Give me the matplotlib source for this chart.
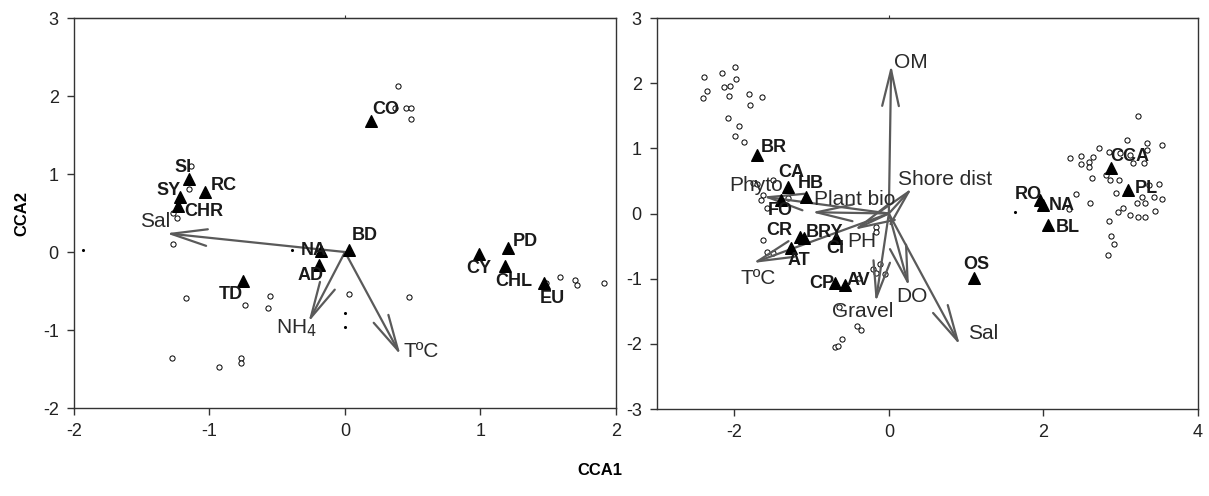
import matplotlib
matplotlib.use("Agg")
import matplotlib.pyplot as plt

plt.rcParams['font.family'] = ['Liberation Sans', 'DejaVu Sans']
plt.rcParams['axes.unicode_minus'] = False

# ---- left panel data ----
l_sp = ["CO", "SI", "SY", "RC", "CHR", "BD", "NA", "AD", "TD", "CY", "PD", "CHL", "EU"]
l_sp_x = [0.19, -1.15, -1.22, -1.03, -1.23, 0.03, -0.18, -0.19, -0.75, 0.99, 1.20, 1.18, 1.47]
l_sp_y = [1.68, 0.94, 0.71, 0.77, 0.59, 0.03, 0.01, -0.17, -0.37, -0.02, 0.05, -0.18, -0.40]

l_site_x = [0.39, 0.37, 0.45, 0.49, 0.49, -1.14, -1.15, -1.27, -1.24, -1.27,
            1.48, 1.59, 1.70, 1.71, 1.91, -1.17, -0.74, -0.55, -0.57, 0.03, 0.47,
            -1.28, -0.93, -0.77, -0.77]
l_site_y = [2.13, 1.85, 1.85, 1.85, 1.71, 1.10, 0.81, 0.50, 0.44, 0.10,
            -0.40, -0.32, -0.36, -0.42, -0.40, -0.59, -0.68, -0.57, -0.72, -0.54, -0.58,
            -1.36, -1.47, -1.36, -1.42]
l_dot_x = [0.0, 0.0, -0.39, -1.93]
l_dot_y = [-0.78, -0.96, 0.02, 0.02]

l_env = ["Sal", "NH$_4$", "TºC"]
l_env_x = [-1.32, -0.27, 0.41]
l_env_y = [0.24, -0.90, -1.32]

# ---- right panel data ----
r_sp = ["BR", "CA", "HB", "FO", "CR", "BRY", "CI", "AT", "CP", "AV", "OS", "RO", "NA", "BL", "CCA", "PL"]
r_sp_x = [-1.71, -1.30, -1.07, -1.40, -1.15, -1.10, -0.69, -1.26, -0.70, -0.57, 1.10, 1.95, 1.99, 2.06, 2.88, 3.10]
r_sp_y = [0.90, 0.41, 0.26, 0.20, -0.36, -0.38, -0.38, -0.53, -1.07, -1.10, -0.99, 0.21, 0.13, -0.18, 0.70, 0.36]

r_site_x = [-2.39, -2.16, -1.99, -1.98, -2.13, -2.06, -2.35, -2.41, -2.07, -1.81, -1.64, -1.80,
            -2.08, -1.94, -1.99, -1.87, -1.76, -1.71, -1.63, -1.65, -1.58, -1.50, -1.31,
            -1.63, -1.57, -1.50, -0.16, -0.16, -0.21, -0.11, -0.17, -0.05, -0.38,
            -0.64, -0.41, -0.36, -0.61, -0.70, -0.66,
            3.22, 3.08, 3.34, 3.53, 2.72, 2.85, 2.35, 2.48, 2.64, 2.59, 2.48, 2.59, 2.63,
            2.99, 3.12, 3.16, 3.30, 3.34, 2.81, 2.86, 2.98, 3.36, 3.49,
            2.94, 3.08, 3.27, 3.21, 3.31, 3.43, 3.53, 3.03, 2.96, 3.12, 3.22, 3.31, 3.44,
            2.60, 2.42, 2.33, 2.85, 2.87, 2.91, 2.83]
r_site_y = [2.10, 2.16, 2.25, 2.06, 1.94, 1.96, 1.88, 1.77, 1.81, 1.83, 1.79, 1.66,
            1.46, 1.35, 1.19, 1.09, 0.47, 0.45, 0.28, 0.21, 0.08, 0.51, 0.24,
            -0.41, -0.59, -0.61, -0.20, -0.28, -0.85, -0.77, -0.91, -0.93, -0.99,
            -1.44, -1.72, -1.79, -1.93, -2.05, -2.03,
            1.50, 1.13, 1.08, 1.05, 1.00, 0.95, 0.85, 0.88, 0.87, 0.79, 0.76, 0.72, 0.55,
            0.93, 0.90, 0.77, 0.77, 0.97, 0.59, 0.51, 0.51, 0.44, 0.45,
            0.31, 0.33, 0.25, 0.16, 0.16, 0.25, 0.22, 0.08, 0.02, -0.02, -0.05, -0.05, 0.04,
            0.16, 0.30, 0.07, -0.12, -0.35, -0.47, -0.64]
r_dot_x = [1.63]
r_dot_y = [0.02]

r_env = ["OM", "Shore dist", "Plant bio", "Phyto", "PH", "TºC", "Gravel", "DO", "Sal"]
r_env_x = [0.03, 0.30, -1.00, -1.63, -0.45, -1.76, -0.17, 0.26, 0.92]
r_env_y = [2.28, 0.39, 0.02, 0.26, -0.25, -0.76, -1.36, -1.12, -2.02]

# label placement: (dx, dy in pixels, ha)
l_sp_off = [(2, 11, 'left'), (-6, 11, 'center'), (1, 6, 'right'), (5, 6, 'left'), (6, -6, 'left'),
            (3, 14, 'left'), (6, 1, 'right'), (4, -10, 'right'), (0, -14, 'right'), (0, -15, 'center'),
            (5, 7, 'left'), (9, -15, 'center'), (8, -15, 'center')]
l_env_off = [(4, 12, 'right'), (-12, -6, 'center'), (3, 3, 'left')]
r_sp_off = [(4, 7, 'left'), (3, 14, 'center'), (5, 13, 'center'), (0, -10, 'center'), (-8, 6, 'right'),
            (2, 6, 'left'), (0, -10, 'center'), (-4, -12, 'left'), (0, 0, 'right'), (2, 5, 'left'),
            (2, 14, 'center'), (2, 5, 'right'), (6, 0, 'left'), (8, -2, 'left'), (-1, 11, 'left'), (6, 2, 'left')]
r_env_off = [(3, 2, 'left'), (-14, 9, 'left'), (2, 13, 'left'), (-7, 11, 'center'), (-7, -12, 'left'),
             (5, -15, 'center'), (-13, -9, 'center'), (3, -10, 'center'), (8, 12, 'left')]

axis_col = '#333333'
arrow_col = '#5a5a5a'


def draw_panel(ax, sp, spx, spy, spoff, sx, sy, dx, dy, env, ex, ey, eoff, xlim, ylim, xticks, yticks):
    ax.scatter(sx, sy, s=14, facecolors='white', edgecolors='black', linewidths=0.7, zorder=2)
    ax.scatter(dx, dy, s=1.5, color='black', zorder=2)
    for name, x, y, (ox, oy, ha) in zip(env, ex, ey, eoff):
        ax.annotate('', xy=(x, y), xytext=(0, 0),
                    arrowprops=dict(arrowstyle='->,head_length=1.3,head_width=0.3',
                                    color=arrow_col, lw=1.6, mutation_scale=20,
                                    shrinkA=0, shrinkB=0), zorder=3)
        ax.annotate(name, xy=(x, y), xytext=(ox, oy), textcoords='offset pixels',
                    ha=ha, va='center', fontsize=15, color='#2a2a2a', zorder=4)
    ax.scatter(spx, spy, marker='^', s=70, color='black', zorder=5)
    for name, x, y, (ox, oy, ha) in zip(sp, spx, spy, spoff):
        ax.annotate(name, xy=(x, y), xytext=(ox, oy), textcoords='offset pixels',
                    ha=ha, va='center', fontsize=13, fontweight='bold', color='#1a1a1a', zorder=6)
    ax.set_xlim(*xlim)
    ax.set_ylim(*ylim)
    ax.set_xticks(xticks)
    ax.set_yticks(yticks)
    for s in ax.spines.values():
        s.set_color(axis_col)
        s.set_linewidth(1.0)
    ax.tick_params(direction='out', length=5, width=1, colors=axis_col, labelsize=13,
                   labelcolor='#222222', pad=6)
    top = ax.secondary_xaxis('top')
    top.set_xticks([0])
    top.tick_params(length=2, labeltop=False, colors=axis_col)
    top.spines['top'].set_color(axis_col)


fig = plt.figure(figsize=(12.09, 4.96), dpi=100)
ax1 = fig.add_axes([0.0612, 0.1774, 0.4483, 0.7863])
ax2 = fig.add_axes([0.5434, 0.1754, 0.4475, 0.7883])

draw_panel(ax1, l_sp, l_sp_x, l_sp_y, l_sp_off, l_site_x, l_site_y, l_dot_x, l_dot_y,
           l_env, l_env_x, l_env_y, l_env_off, (-2, 2), (-2, 3), [-2, -1, 0, 1, 2], [-2, -1, 0, 1, 2, 3])
draw_panel(ax2, r_sp, r_sp_x, r_sp_y, r_sp_off, r_site_x, r_site_y, r_dot_x, r_dot_y,
           r_env, r_env_x, r_env_y, r_env_off, (-3, 4), (-3, 3), [-2, 0, 2, 4], [-3, -2, -1, 0, 1, 2, 3])

ax1.set_ylabel('CCA2', fontsize=12, fontweight='bold', labelpad=10)
fig.text(0.496, 0.052, 'CCA1', ha='center', va='center', fontsize=12, fontweight='bold')

fig.savefig('out.png', dpi=100)
